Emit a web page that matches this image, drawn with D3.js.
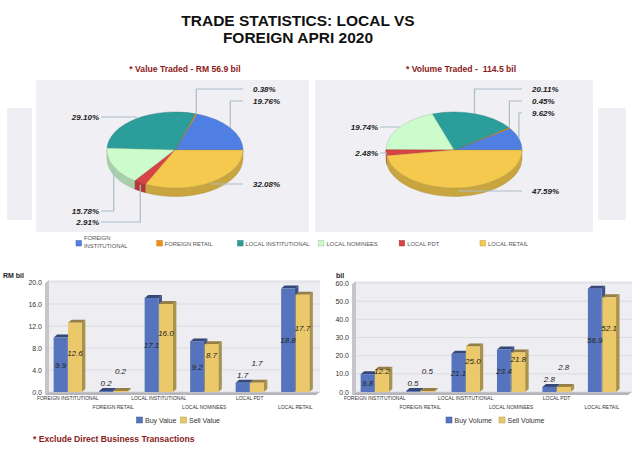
<!DOCTYPE html>
<html>
<head>
<meta charset="utf-8">
<script src="https://cdn.jsdelivr.net/npm/d3@7"></script>
<style>
  body { margin: 0; background: #fff; }
  svg { display: block; font-family: "Liberation Sans", Arial, sans-serif; }
</style>
</head>
<body>
<svg id="chart" width="640" height="452"></svg>
<script>
// ---- data ----
var categories = ["FOREIGN INSTITUTIONAL", "FOREIGN RETAIL", "LOCAL INSTITUTIONAL", "LOCAL NOMINEES", "LOCAL PDT", "LOCAL RETAIL"];
var valueShare = [19.76, 0.38, 29.10, 15.78, 2.91, 32.08];
var volumeShare = [9.62, 0.45, 20.11, 19.74, 2.48, 47.59];
var buyValue = [9.9, 0.2, 17.1, 9.2, 1.7, 18.8];
var sellValue = [12.6, 0.2, 16.0, 8.7, 1.7, 17.7];
var buyVolume = [9.8, 0.5, 21.1, 23.4, 2.8, 56.9];
var sellVolume = [12.2, 0.5, 25.0, 21.8, 2.8, 52.1];
var valueTicks = [0, 4, 8, 12, 16, 20];
var volumeTicks = [0, 10, 20, 30, 40, 50, 60];

var sliceColors = ["#4f7fe3", "#f0901a", "#2b9e9b", "#ccfccc", "#d84343", "#f5c94e"];
var barColors = { buy: "#5673bd", sell: "#ebc96a" };
var darkRed = "#8b1a1a";

var svg = d3.select("#chart");

// ---- titles ----
svg.append("text").attr("x", 298).attr("y", 26).attr("text-anchor", "middle")
    .style("font-size", "15.5px").style("font-weight", "bold").attr("fill", "#111")
    .text("TRADE STATISTICS: LOCAL VS");
svg.append("text").attr("x", 298).attr("y", 42.5).attr("text-anchor", "middle")
    .style("font-size", "15.5px").style("font-weight", "bold").attr("fill", "#111")
    .text("FOREIGN APRI 2020");

svg.append("text").attr("x", 185).attr("y", 72).attr("text-anchor", "middle")
    .style("font-size", "8.6px").style("font-weight", "bold").attr("fill", darkRed)
    .text("* Value Traded - RM 56.9 bil");
svg.append("text").attr("x", 461).attr("y", 72).attr("text-anchor", "middle")
    .style("font-size", "8.6px").style("font-weight", "bold").attr("fill", darkRed)
    .attr("xml:space", "preserve")
    .text("* Volume Traded -  114.5 bil");

// side panels cut off at the edges
svg.append("rect").attr("x", 7).attr("y", 108).attr("width", 25).attr("height", 112).attr("fill", "#eeeef3");
svg.append("rect").attr("x", 598).attr("y", 108).attr("width", 28).attr("height", 112).attr("fill", "#eeeef3");

// ---- 3D pies ----
function drawPie(cx, shares, panelX, panelW, labelYs) {
    var cy = 150, rx = 68, ry = 38, depth = 8.5;
    svg.append("rect").attr("x", panelX).attr("y", 80).attr("width", panelW).attr("height", 152).attr("fill", "#efeff4");

    var arcs = d3.pie().sort(null).startAngle(0).endAngle(2 * Math.PI)(shares);

    function pt(a, dy) {
        return [cx + rx * Math.cos(a), cy - ry * Math.sin(a) + (dy || 0)];
    }

    var g = svg.append("g");

    // side walls, only the front half shows
    arcs.forEach(function (d, i) {
        var s = Math.max(d.startAngle, Math.PI), e = Math.min(d.endAngle, 2 * Math.PI);
        if (e <= s) return;
        var p0 = pt(s), p1 = pt(e), q1 = pt(e, depth), q0 = pt(s, depth);
        g.append("path")
            .attr("d", "M" + p0 + " A" + rx + " " + ry + " 0 0 0 " + p1 +
                " L" + q1 + " A" + rx + " " + ry + " 0 0 1 " + q0 + " Z")
            .attr("fill", d3.rgb(sliceColors[i]).darker(0.55))
            .attr("stroke", d3.rgb(sliceColors[i]).darker(1)).attr("stroke-width", 0.4);
    });

    // top faces
    arcs.forEach(function (d, i) {
        var large = (d.endAngle - d.startAngle) > Math.PI ? 1 : 0;
        g.append("path")
            .attr("d", "M" + cx + "," + cy + " L" + pt(d.startAngle) + " A" + rx + " " + ry + " 0 " + large + " 0 " + pt(d.endAngle) + " Z")
            .attr("fill", sliceColors[i])
            .attr("stroke", d3.rgb(sliceColors[i]).darker(0.8)).attr("stroke-width", 0.4);
    });

    // leader lines + labels
    arcs.forEach(function (d, i) {
        var mid = (d.startAngle + d.endAngle) / 2;
        var a = pt(mid, Math.sin(mid) < 0 ? 2 : 0);
        var ly = labelYs[i];
        var right = Math.cos(mid) > 0;
        var tx = right ? cx + 78 : cx - 76;
        var lx = right ? tx - 10 : tx + 2;
        g.append("path")
            .attr("d", "M" + a + " L" + a[0] + "," + ly + " L" + lx + "," + ly)
            .attr("fill", "none").attr("stroke", "#abbdc5").attr("stroke-width", 1.2);
        g.append("text").attr("x", tx).attr("y", ly + 3)
            .attr("text-anchor", right ? "start" : "end")
            .style("font-size", "8px").style("font-weight", "bold").style("font-style", "italic")
            .attr("fill", "#222")
            .text(d.data.toFixed(2) + "%");
    });
}

drawPie(175, valueShare, 36, 273, [101, 89, 117, 211, 222, 184]);
drawPie(454, volumeShare, 315, 278, [113, 101, 89, 127, 153, 191]);

// pie legend
var pieLegend = svg.append("g").selectAll("g").data(categories).enter().append("g")
    .attr("transform", function (d, i) { return "translate(" + (76 + i * 80.8) + ",240.5)"; });
pieLegend.append("rect").attr("width", 5.5).attr("height", 5.5)
    .attr("fill", function (d, i) { return sliceColors[i]; })
    .attr("stroke", function (d, i) { return d3.rgb(sliceColors[i]).darker(0.7); }).attr("stroke-width", 0.5);
pieLegend.each(function (d) {
    var t = d3.select(this).append("text").attr("x", 8).style("font-size", "5.8px").attr("fill", "#555");
    if (d.length > 20) {
        var parts = d.split(" ");
        t.append("tspan").attr("x", 8).attr("y", -0.5).text(parts[0]);
        t.append("tspan").attr("x", 8).attr("y", 7.5).text(parts.slice(1).join(" "));
    } else {
        t.attr("y", 5.5).text(d);
    }
});

// ---- 3D bar charts ----
function drawBars(opt) {
    var y = d3.scaleLinear().domain([0, opt.max]).range([392, opt.top]);
    var x0 = d3.scaleBand().domain(categories).range([opt.left, opt.bandEnd]).paddingInner(0.38).paddingOuter(0.19);
    var x1 = d3.scaleBand().domain(["buy", "sell"]).range([0, x0.bandwidth()]).paddingInner(0.04);
    var g = svg.append("g");
    var dx = 3.5, dy = 3;

    // wall, floor, background
    g.append("rect").attr("x", opt.left + 4).attr("y", opt.top - 2).attr("width", opt.right - opt.left - 4)
        .attr("height", 392 - opt.top + 2).attr("fill", "#ededf2");
    g.append("path").attr("d", "M" + opt.left + "," + (opt.top + 1) + " L" + (opt.left + 4) + "," + (opt.top - 2) +
        " L" + (opt.left + 4) + ",392 L" + opt.left + ",395 Z").attr("fill", "#c5c5ca");
    g.append("path").attr("d", "M" + opt.left + ",395 L" + (opt.left + 4) + ",392 L" + opt.right + ",392 L" + (opt.right - 4) + ",395 Z")
        .attr("fill", "#b5b5ba");

    g.selectAll(".grid").data(opt.ticks).enter().append("line")
        .attr("x1", opt.left + 4).attr("x2", opt.right)
        .attr("y1", function (d) { return y(d); }).attr("y2", function (d) { return y(d); })
        .attr("stroke", "#d6d6dc").attr("stroke-width", 0.8);

    g.selectAll(".ytick").data(opt.ticks).enter().append("text")
        .attr("x", opt.left - 3).attr("y", function (d) { return y(d) + 2.5; })
        .attr("text-anchor", "end").style("font-size", "7px").attr("fill", "#333")
        .text(d3.format(".1f"));

    g.append("text").attr("x", opt.unitX).attr("y", 278).style("font-size", "7px").style("font-weight", "bold")
        .attr("fill", "#222").text(opt.unit);

    function bar(xl, v, col) {
        var w = x1.bandwidth(), yv = y(v), yb = y(0);
        var c = d3.rgb(col);
        g.append("path").attr("d", "M" + (xl + w) + "," + yv + " L" + (xl + w + dx) + "," + (yv - dy) +
            " L" + (xl + w + dx) + "," + (yb - dy) + " L" + (xl + w) + "," + yb + " Z").attr("fill", c.darker(0.9));
        g.append("path").attr("d", "M" + xl + "," + yv + " L" + (xl + dx) + "," + (yv - dy) +
            " L" + (xl + w + dx) + "," + (yv - dy) + " L" + (xl + w) + "," + yv + " Z").attr("fill", c.darker(1.3));
        g.append("rect").attr("x", xl).attr("y", yv).attr("width", w).attr("height", yb - yv).attr("fill", col);
    }

    function ownLabelY(v) {
        var h = y(0) - y(v);
        return h >= 12 ? y(0) - h / 2 : y(v) - 8;
    }

    categories.forEach(function (c, i) {
        var bx = x0(c) + x1("buy"), sx = x0(c) + x1("sell");
        bar(bx, opt.buy[i], barColors.buy);
        bar(sx, opt.sell[i], barColors.sell);
        var by = ownLabelY(opt.buy[i]);
        var sy = Math.min(ownLabelY(opt.sell[i]), by - 12);
        [[bx, by, opt.buy[i]], [sx, sy, opt.sell[i]]].forEach(function (l) {
            g.append("text").attr("x", l[0] + x1.bandwidth() / 2).attr("y", l[1] + 3)
                .attr("text-anchor", "middle").style("font-size", "8px").style("font-style", "italic")
                .attr("fill", "#222").text(l[2].toFixed(1));
        });
        g.append("text").attr("x", x0(c) + x0.bandwidth() / 2).attr("y", i % 2 == 0 ? 400 : 409)
            .attr("text-anchor", "middle").style("font-size", "5px").attr("fill", "#333").text(c);
    });

    // legend
    var lx = (opt.left + opt.right) / 2 - 46;
    var names = opt.legend;
    [barColors.buy, barColors.sell].forEach(function (col, i) {
        var ox = lx + i * opt.legendStep;
        g.append("rect").attr("x", ox).attr("y", 417).attr("width", 6).attr("height", 6).attr("fill", col)
            .attr("stroke", d3.rgb(col).darker(0.8)).attr("stroke-width", 0.5);
        g.append("text").attr("x", ox + 8.5).attr("y", 423).style("font-size", "7px").attr("fill", "#333").text(names[i]);
    });
}

drawBars({ left: 45, bandEnd: 318, right: 320, top: 282, max: 20, ticks: valueTicks,
    buy: buyValue, sell: sellValue, unit: "RM bil", unitX: 3, legend: ["Buy Value", "Sell Value"], legendStep: 44 });
drawBars({ left: 352, bandEnd: 624.7, right: 632, top: 283, max: 60, ticks: volumeTicks,
    buy: buyVolume, sell: sellVolume, unit: "bil", unitX: 336, legend: ["Buy Volume", "Sell Volume"], legendStep: 53 });

svg.append("text").attr("x", 33).attr("y", 442).style("font-size", "8.6px").style("font-weight", "bold")
    .attr("fill", darkRed).text("* Exclude Direct Business Transactions");
</script>
</body>
</html>
